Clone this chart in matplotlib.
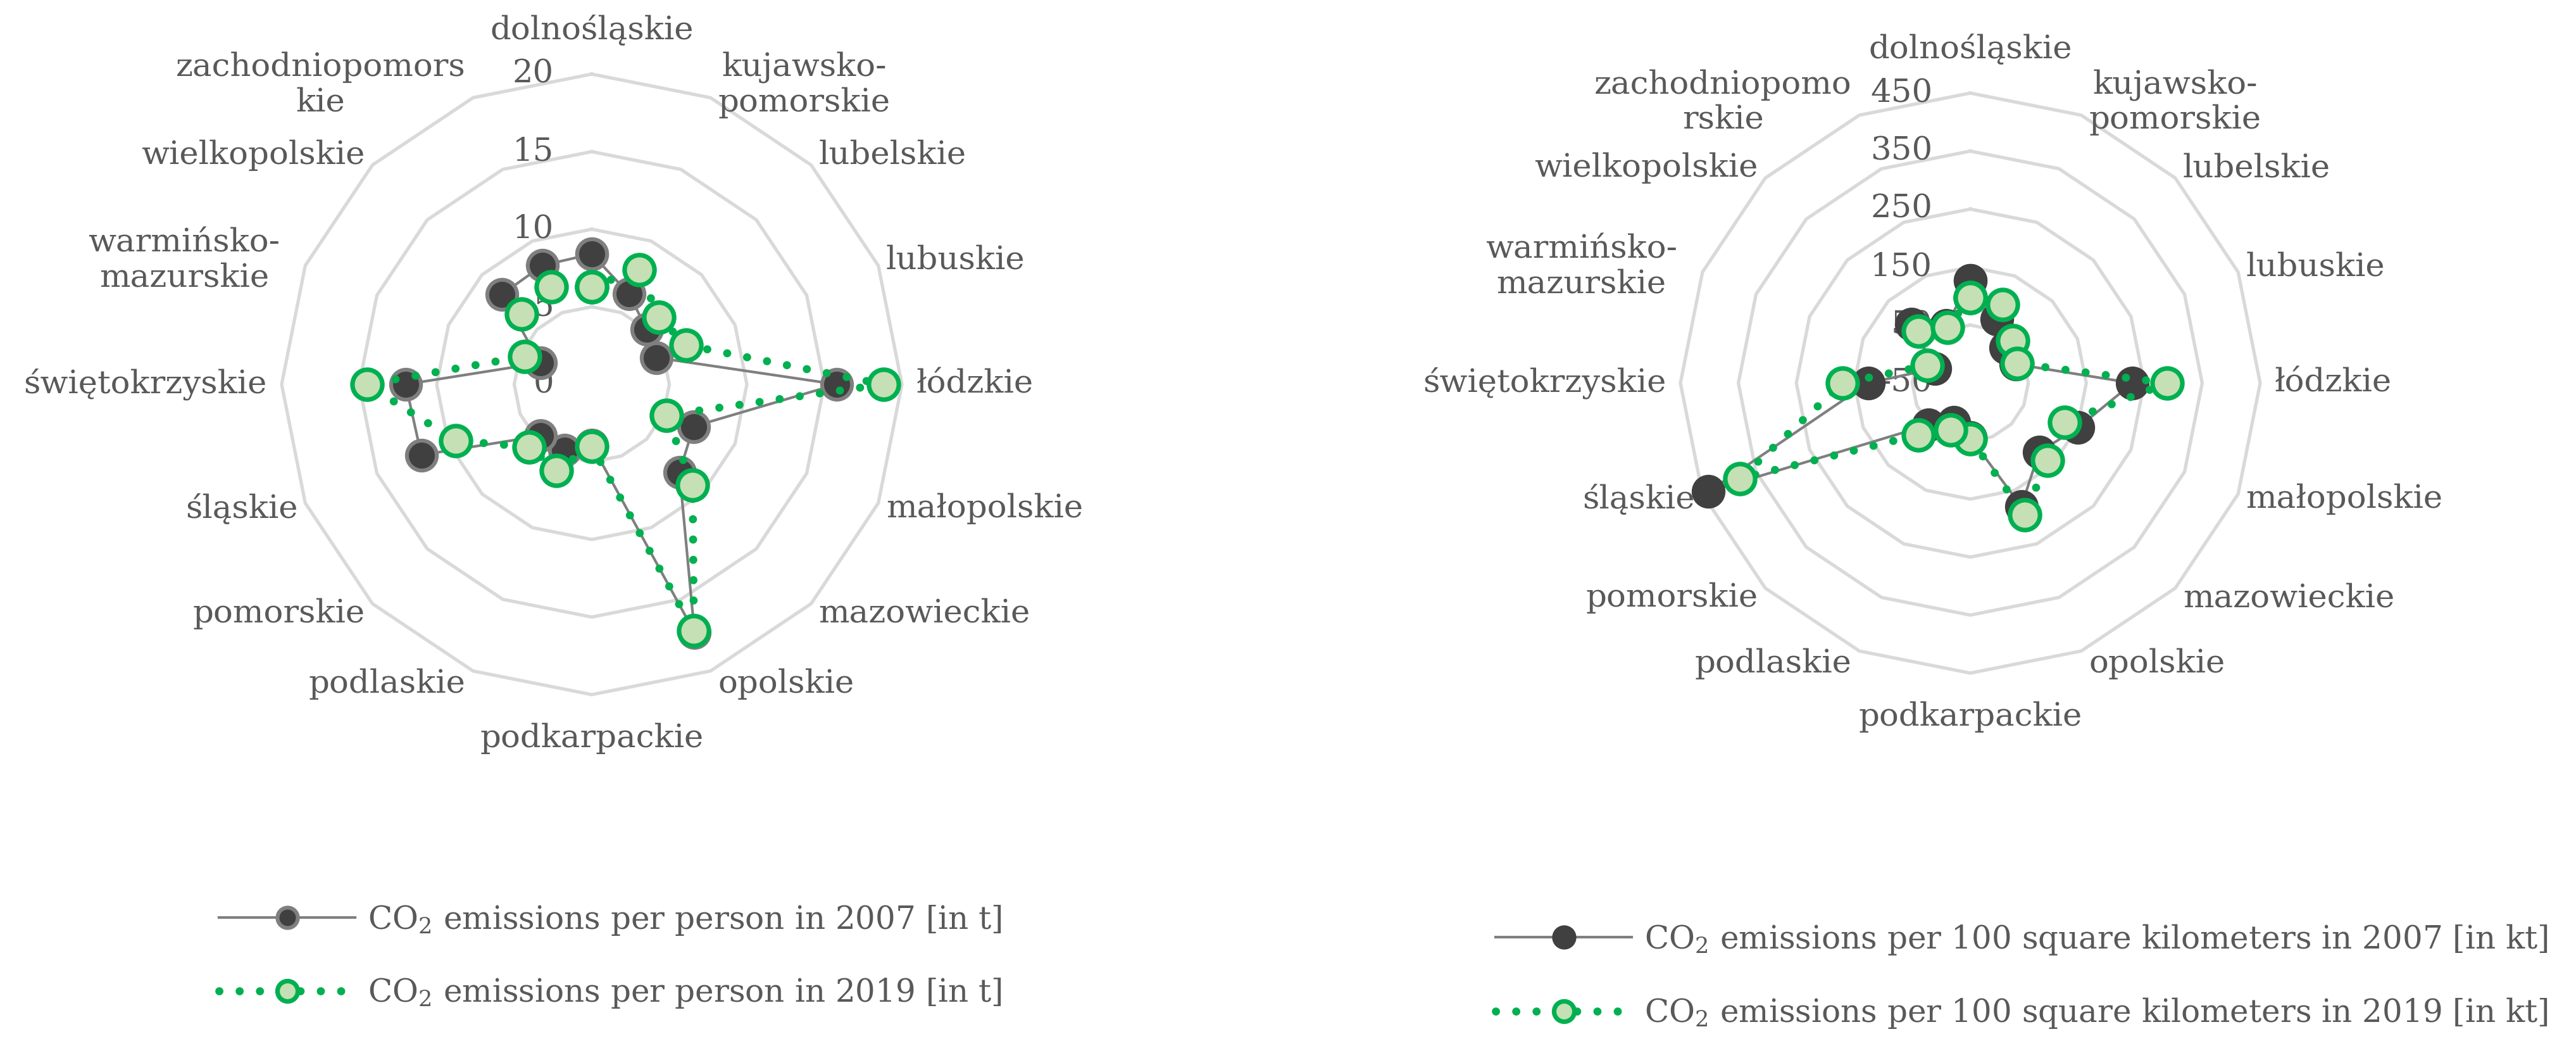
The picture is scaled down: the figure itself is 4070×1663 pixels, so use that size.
import numpy as np
import matplotlib.pyplot as plt
import matplotlib.transforms as mtransforms

# voivodeships, clockwise from the top
regions_left = ['dolnośląskie', 'kujawsko-\npomorskie', 'lubelskie', 'lubuskie', 'łódzkie',
                'małopolskie', 'mazowieckie', 'opolskie', 'podkarpackie', 'podlaskie',
                'pomorskie', 'śląskie', 'świętokrzyskie', 'warmińsko-\nmazurskie',
                'wielkopolskie', 'zachodniopomors\nkie']
regions_right = regions_left[:15] + ['zachodniopomo\nrskie']

# CO2 per person [t]
per_person_2007 = [8.4, 6.3, 5.0, 4.5, 15.8, 7.1, 8.0, 17.3, 3.9, 4.6, 4.7, 11.9, 12.0, 3.6, 8.2, 8.3]
per_person_2019 = [6.3, 8.0, 6.1, 6.6, 18.8, 5.2, 9.2, 17.2, 4.0, 6.0, 5.7, 9.5, 14.5, 4.7, 6.4, 6.8]

# CO2 per 100 km2 [kt]
per_area_2007 = [127, 69, 36, 35, 230, 151, 118, 180, 44, 23, 52, 439, 126, 16, 94, 58]
per_area_2019 = [97, 96, 53, 38, 290, 126, 138, 196, 46, 38, 76, 380, 170, 30, 77, 54]

left_ticks = [0, 5, 10, 15, 20]
right_ticks = [-50, 50, 150, 250, 350, 450]

labels_left = ['CO$_2$ emissions per person in 2007 [in t]',
               'CO$_2$ emissions per person in 2019 [in t]']
labels_right = ['CO$_2$ emissions per 100 square kilometers in 2007 [in kt]',
                'CO$_2$ emissions per 100 square kilometers in 2019 [in kt]']

plt.rcParams['font.family'] = 'DejaVu Serif'
plt.rcParams['mathtext.fontset'] = 'dejavuserif'

TXT = '#595959'
FS = 18.5
W, H, DPI = 4070, 1663, 200
fig = plt.figure(figsize=(W / DPI, H / DPI), dpi=DPI)

# Excel centres the wrapped label inside a wider box
nudge = {'warmińsko-\nmazurskie': -28}


def radar(cx, cy, rad, ticks, names, s07, s19, dark_edge):
    ax = fig.add_axes([(cx - rad) / W, (H - cy - rad) / H, 2 * rad / W, 2 * rad / H],
                      projection='polar')
    ax.set_theta_zero_location('N')
    ax.set_theta_direction(-1)
    ax.set_ylim(ticks[0], ticks[-1])
    ax.set_xticks([])
    ax.set_yticks([])
    ax.grid(False)
    ax.spines['polar'].set_visible(False)
    ax.patch.set_alpha(0)

    n = len(names)
    theta = np.linspace(0, 2 * np.pi, n, endpoint=False)
    closed = np.append(theta, theta[0])

    for v in ticks[1:]:
        ax.plot(closed, [v] * (n + 1), color='#d9d9d9', lw=1.9, zorder=1, clip_on=False)

    for v in ticks:
        tr = mtransforms.offset_copy(ax.transData, fig=fig, x=-60, y=0, units='dots')
        ax.text(0, v, str(v), transform=tr, ha='right', va='center',
                fontsize=FS, color=TXT, zorder=2)

    for t, name in zip(theta, names):
        s, c = np.sin(t), np.cos(t)
        if abs(s) < 1e-6:
            ha, va, ox, oy = 'center', ('bottom' if c > 0 else 'top'), 0, 45 * np.sign(c)
        else:
            ha = 'left' if s > 0 else 'right'
            va = 'center'
            ox = np.sign(s) * (12 + (11 if abs(c) < 1e-6 else 0)) + nudge.get(name, 0)
            oy = 22 * c
        tr = mtransforms.offset_copy(ax.transData, fig=fig, x=ox, y=oy, units='dots')
        ax.text(t, ticks[-1], name, transform=tr, ha=ha, va=va, multialignment='center',
                fontsize=FS, color=TXT, clip_on=False, linespacing=1.15)

    l1, = ax.plot(closed, np.append(s07, s07[0]), color='#7f7f7f', lw=1.5,
                  marker='o', ms=17, mfc='#404040', mec=dark_edge, mew=2.2,
                  zorder=3, clip_on=False)
    l2, = ax.plot(closed, np.append(s19, s19[0]), color='#00b050', lw=4.6,
                  ls=(0, (0.01, 2.5)), dash_capstyle='round',
                  marker='o', ms=17, mfc='#c5e0b4', mec='#00b050', mew=2.6,
                  zorder=4, clip_on=False)
    return l1, l2


h_left = radar(935, 607, 490, left_ticks, regions_left, per_person_2007, per_person_2019, '#7f7f7f')
h_right = radar(3113, 605, 458, right_ticks, regions_right, per_area_2007, per_area_2019, '#404040')

for handles, labels, x0, yc in [(h_left, labels_left, 346, 1511), (h_right, labels_right, 2363, 1542)]:
    fig.legend(handles, labels, loc='center left', bbox_to_anchor=(x0 / W, 1 - yc / H),
               frameon=False, fontsize=18, labelcolor=TXT, handlelength=4.3,
               handletextpad=0.4, labelspacing=1.25, markerscale=0.68,
               borderpad=0, borderaxespad=0)

fig.savefig('out.png', dpi=DPI, facecolor='white')
